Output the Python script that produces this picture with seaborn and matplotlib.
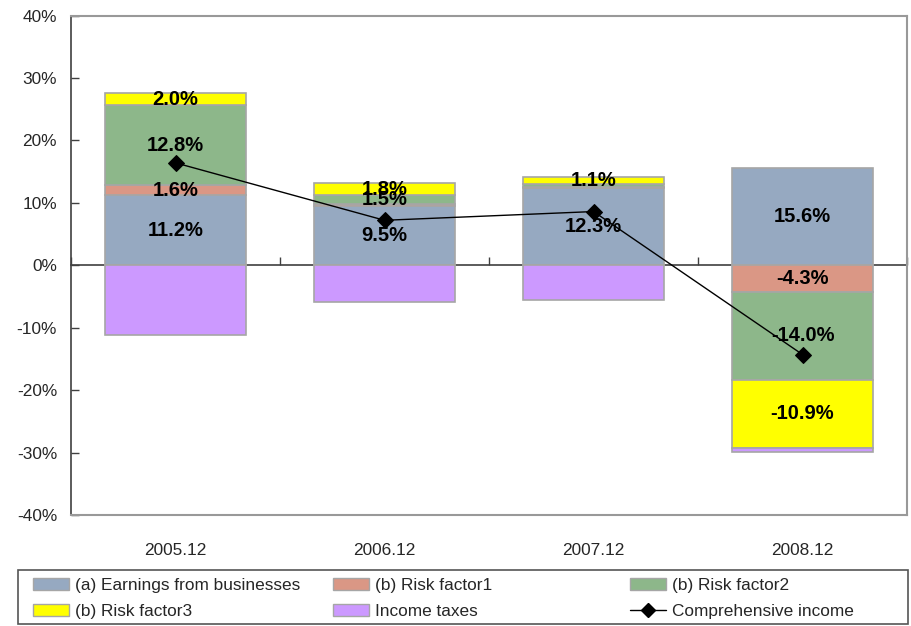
import numpy as np
import pandas as pd
import matplotlib
matplotlib.use("Agg")
import matplotlib.pyplot as plt
from matplotlib.patches import Patch, Rectangle
from matplotlib.lines import Line2D
from matplotlib.ticker import FuncFormatter
import seaborn as sns

# ---- data (percent) ----
categories = ["2005.12", "2006.12", "2007.12", "2008.12"]
earnings = [11.2, 9.5, 12.3, 15.6]
risk_factor1 = [1.6, 0.3, 0.2, -4.3]
risk_factor2 = [12.8, 1.5, 0.5, -14.0]
risk_factor3 = [2.0, 1.8, 1.1, -10.9]
income_taxes = [-11.2, -5.9, -5.5, -0.7]
comprehensive_income = [16.4, 7.2, 8.6, -14.3]

series_names = ["(a) Earnings from businesses", "(b) Risk factor1",
                "(b) Risk factor2", "(b) Risk factor3", "Income taxes"]
series_values = [earnings, risk_factor1, risk_factor2, risk_factor3, income_taxes]
series_colors = ["#96A9C1", "#DA9785", "#8DB78A", "#FFFF00", "#CC99FF"]
line_name = "Comprehensive income"

sns.set_style("white")
plt.rcParams["font.family"] = ["Liberation Sans", "DejaVu Sans"]

W, H = 911, 626
fig = plt.figure(figsize=(W / 100, H / 100), dpi=100)
ax = fig.add_axes([71 / W, 1 - 515 / H, (907 - 71) / W, (515 - 15.5) / H])

# stacked columns: positives stack upward from zero, negatives downward
pos_base = np.zeros(len(categories))
neg_base = np.zeros(len(categories))
for name, vals, col in zip(series_names, series_values, series_colors):
    vals = np.asarray(vals, dtype=float)
    bottom = np.where(vals >= 0, pos_base, neg_base)
    sns.barplot(x=categories, y=vals, bottom=bottom, order=categories,
                color=col, saturation=1, width=0.67, errorbar=None,
                edgecolor="#A6A6A6", linewidth=1.2, ax=ax, zorder=2)
    cont = ax.containers[-1]
    labels = [f"{v:.1f}%" if abs(v) >= 1.0 and name != "Income taxes" else ""
              for v in vals]
    ax.bar_label(cont, labels=labels, label_type="center",
                 fontsize=14.5, fontweight="bold", color="black", zorder=5)
    pos_base = pos_base + np.where(vals >= 0, vals, 0)
    neg_base = neg_base + np.where(vals < 0, vals, 0)

sns.pointplot(x=categories, y=comprehensive_income, order=categories,
              color="black", markers="D", linestyles="-", errorbar=None,
              markersize=8, linewidth=1, ax=ax, zorder=4)

ax.set_xlim(-0.5, len(categories) - 0.5)
ax.set_ylim(-40, 40)
ax.set_yticks(np.arange(-40, 41, 10))
ax.yaxis.set_major_formatter(FuncFormatter(lambda v, p: f"{v:.0f}%"))
ax.set_xlabel("")
ax.set_ylabel("")
ax.tick_params(axis="y", direction="in", length=6, width=1, color="#404040",
               labelsize=12.4, pad=10, left=True)
ax.tick_params(axis="x", length=0, labelsize=12.4, pad=20)

for side in ["top", "right", "bottom"]:
    ax.spines[side].set_color("#999999")
    ax.spines[side].set_linewidth(1.5)
ax.spines["left"].set_color("#404040")
ax.spines["left"].set_linewidth(1.2)

# category axis crossing at zero with boundary tick marks
zero_axis = ax.secondary_xaxis(0.5)
zero_axis.set_xticks(np.arange(-0.5, len(categories), 1.0))
zero_axis.tick_params(axis="x", direction="out", length=6, width=1,
                      color="#404040", labeltop=False, labelbottom=False)
for sp in zero_axis.spines.values():
    sp.set_color("#404040")
    sp.set_linewidth(1.2)

# legend box across the bottom
box_top, box_bottom = 570, 624
fig.patches.append(Rectangle((18 / W, 1 - box_bottom / H), (908 - 18) / W,
                             (box_bottom - box_top) / H,
                             transform=fig.transFigure, fill=False,
                             edgecolor="#555555", linewidth=1.2))

handles = [Patch(facecolor=c, edgecolor="#A6A6A6", linewidth=1) for c in series_colors]
handles.append(Line2D([], [], color="black", marker="D", markersize=7, linewidth=1))
names = series_names + [line_name]

col_x = [33, 333, 630]
col_items = [[0, 3], [1, 4], [2, 5]]
for cx, items in zip(col_x, col_items):
    fig.legend([handles[i] for i in items], [names[i] for i in items],
               loc="upper left", bbox_to_anchor=(cx / W, 1 - 577.5 / H),
               frameon=False, fontsize=12.4, borderpad=0, borderaxespad=0,
               handlelength=2.1, handleheight=0.7, handletextpad=0.35,
               labelspacing=0.65)

fig.savefig("out.png", dpi=100)
